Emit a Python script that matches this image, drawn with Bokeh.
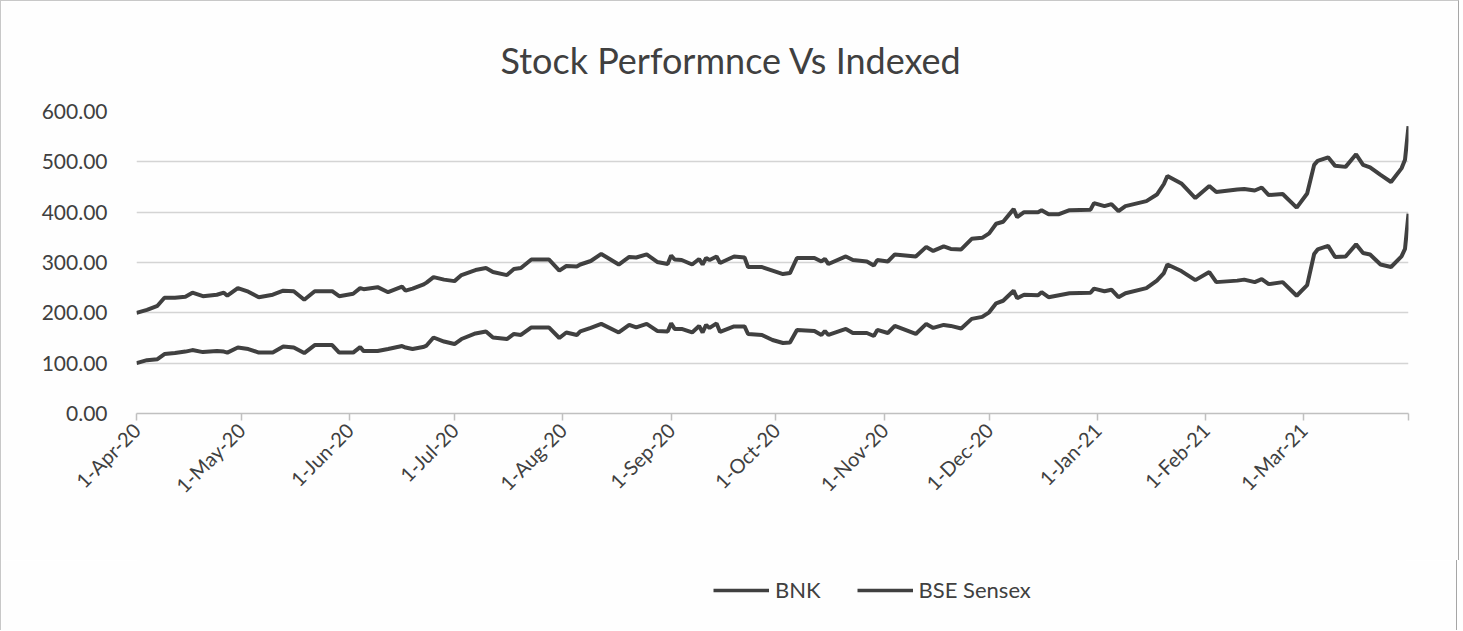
import math
import pandas as pd
from bokeh.plotting import figure
from bokeh.layouts import column
from bokeh.models import (ColumnDataSource, Range1d, FixedTicker, NumeralTickFormatter,
                          Legend, LegendItem)
from bokeh.transform import stack
from bokeh.embed import file_html
from bokeh.resources import INLINE

# ---------------- data ----------------
dates = ["2020-04-01", "2020-04-04", "2020-04-07", "2020-04-09", "2020-04-12", "2020-04-15", "2020-04-17",
         "2020-04-20", "2020-04-24", "2020-04-26", "2020-04-27", "2020-04-30",
         "2020-05-03", "2020-05-06", "2020-05-10", "2020-05-13", "2020-05-16", "2020-05-19", "2020-05-22",
         "2020-05-27", "2020-05-29",
         "2020-06-02", "2020-06-04", "2020-06-05", "2020-06-09", "2020-06-12", "2020-06-16", "2020-06-17",
         "2020-06-19", "2020-06-22", "2020-06-23", "2020-06-25", "2020-06-28",
         "2020-07-01", "2020-07-03", "2020-07-07", "2020-07-10", "2020-07-12", "2020-07-16", "2020-07-18",
         "2020-07-20", "2020-07-23", "2020-07-28", "2020-07-31",
         "2020-08-02", "2020-08-05", "2020-08-06", "2020-08-09", "2020-08-12", "2020-08-17", "2020-08-20",
         "2020-08-22", "2020-08-25", "2020-08-28", "2020-08-31",
         "2020-09-01", "2020-09-02", "2020-09-04", "2020-09-07", "2020-09-09", "2020-09-10", "2020-09-11",
         "2020-09-12", "2020-09-14", "2020-09-15", "2020-09-19", "2020-09-22", "2020-09-23", "2020-09-27",
         "2020-09-30",
         "2020-10-03", "2020-10-05", "2020-10-07", "2020-10-12", "2020-10-14", "2020-10-15", "2020-10-16",
         "2020-10-21", "2020-10-23", "2020-10-27", "2020-10-29", "2020-10-30",
         "2020-11-02", "2020-11-04", "2020-11-07", "2020-11-10", "2020-11-13", "2020-11-15", "2020-11-18",
         "2020-11-20", "2020-11-23", "2020-11-26", "2020-11-29",
         "2020-12-01", "2020-12-03", "2020-12-05", "2020-12-08", "2020-12-09", "2020-12-11", "2020-12-15",
         "2020-12-16", "2020-12-18", "2020-12-21", "2020-12-24", "2020-12-30", "2020-12-31",
         "2021-01-03", "2021-01-05", "2021-01-07", "2021-01-09", "2021-01-15", "2021-01-18", "2021-01-20",
         "2021-01-21", "2021-01-25", "2021-01-29",
         "2021-02-02", "2021-02-04", "2021-02-10", "2021-02-12", "2021-02-15", "2021-02-17", "2021-02-19",
         "2021-02-23", "2021-02-27",
         "2021-03-02", "2021-03-04", "2021-03-05", "2021-03-08", "2021-03-10", "2021-03-13", "2021-03-16",
         "2021-03-18", "2021-03-20", "2021-03-23", "2021-03-26", "2021-03-29", "2021-03-30", "2021-03-31"]

bnk = [100, 106, 108, 118, 120, 123, 126, 122, 124, 123, 121, 131,
       128, 121, 121, 133, 131, 120, 136, 136, 121,
       121, 132, 124, 124, 128, 134, 131, 128, 132, 135, 151, 143,
       138, 148, 159, 163, 151, 148, 158, 156, 171, 171, 150,
       161, 156, 163, 170, 178, 161, 176, 171, 178, 164, 163,
       179, 168, 168, 161, 174, 161, 176, 170, 179, 162, 173, 173, 158, 156, 146,
       140, 141, 166, 164, 156, 164, 156, 168, 160, 160, 154, 166,
       160, 174, 166, 158, 178, 170, 176, 174, 169, 188, 192,
       201, 219, 224, 244, 229, 236, 235, 241, 231, 235, 239, 240, 248,
       243, 246, 231, 239, 249, 264, 279, 296, 283, 265,
       281, 261, 264, 266, 261, 267, 257, 261, 234,
       255, 317, 326, 333, 311, 312, 336, 319, 316, 296, 291, 312, 327, 397]

bse_sensex = [100, 100, 106, 112, 110, 109, 114, 111, 112, 117, 113, 118,
              114, 110, 115, 111, 112, 106, 107, 107, 112,
              117, 117, 123, 127, 113, 118, 113, 120, 124, 125, 120, 123,
              125, 127, 126, 126, 130, 127, 129, 133, 135, 135, 134,
              132, 136, 133, 133, 139, 135, 135, 139, 138, 137, 134,
              135, 138, 137, 135, 133, 135, 133, 135, 133, 137, 139, 137, 133, 135, 138,
              137, 138, 143, 145, 146, 143, 141, 144, 145, 142, 140, 139,
              142, 142, 148, 154, 153, 153, 156, 153, 157, 159, 157,
              157, 158, 157, 162, 161, 164, 165, 163, 165, 161, 165, 165, 170,
              169, 170, 171, 173, 173, 171, 177, 176, 174, 163,
              171, 179, 181, 180, 182, 182, 177, 175, 175,
              182, 177, 176, 176, 181, 178, 179, 175, 173, 178, 169, 175, 177, 174]

tick_dates = ["2020-04-01", "2020-05-01", "2020-06-01", "2020-07-01", "2020-08-01", "2020-09-01",
              "2020-10-01", "2020-11-01", "2020-12-01", "2021-01-01", "2021-02-01", "2021-03-01"]
tick_labels = ["1-Apr-20", "1-May-20", "1-Jun-20", "1-Jul-20", "1-Aug-20", "1-Sep-20",
               "1-Oct-20", "1-Nov-20", "1-Dec-20", "1-Jan-21", "1-Feb-21", "1-Mar-21"]
axis_start = "2020-04-01"
axis_end = "2021-03-31"
y_ticks = [0, 100, 200, 300, 400, 500, 600]

title_text = "Stock Performnce Vs Indexed"
series_names = ["BNK", "BSE Sensex"]

# ---------------- styling ----------------
FONT = "Lato"
TXT = "#404040"
LINE = "#404040"
BG = "#fefefe"


def to_ms(s):
    return int(pd.Timestamp(s).value // 10**6)


source = ColumnDataSource(dict(date=pd.to_datetime(dates), bnk=bnk, sensex=bse_sensex))

# ---------------- main chart ----------------
p = figure(frame_width=1270, frame_height=301, x_axis_type="datetime",
           x_range=Range1d(to_ms(axis_start), to_ms(axis_end)), y_range=Range1d(0, 600),
           output_backend="svg", toolbar_location=None,
           min_border_left=135, min_border_right=52, min_border_top=110, min_border_bottom=148)

p.styles = {"border-left": "1px solid #c8c8c8", "border-right": "1px solid #a6a6a6",
            "border-top": "1px solid #c8c8c8"}

p.background_fill_color = BG
p.border_fill_color = BG
p.outline_line_color = None

# title
p.title.text = title_text
p.title.align = "left"
p.title.offset = 364
p.title.text_font = FONT
p.title.text_font_size = "36px"
p.title.text_font_style = "normal"
p.title.text_color = TXT
p.title.standoff = 60

# lines (stacked like Excel's stacked line chart)
r1 = p.line(x="date", y=stack("bnk"), source=source, line_color=LINE, line_width=4)
r2 = p.line(x="date", y=stack("bnk", "sensex"), source=source, line_color=LINE, line_width=4)

# grid
p.xgrid.grid_line_color = None
p.ygrid.grid_line_color = "#d4d4d4"
p.ygrid.grid_line_width = 1.5

# y axis
yax = p.yaxis[0]
yax.ticker = FixedTicker(ticks=y_ticks)
yax.formatter = NumeralTickFormatter(format="0.00")
yax.axis_line_color = None
yax.major_tick_line_color = None
yax.minor_tick_line_color = None
yax.major_label_text_font = FONT
yax.major_label_text_font_size = "21px"
yax.major_label_text_color = TXT
yax.major_label_standoff = 23

# x axis
xax = p.xaxis[0]
tick_ms = [to_ms(d) for d in tick_dates]
xax.ticker = FixedTicker(ticks=tick_ms, minor_ticks=[to_ms(axis_end)])
xax.major_label_overrides = {t: lab for t, lab in zip(tick_ms, tick_labels)}
xax.major_label_orientation = math.pi / 4
xax.major_label_text_font = FONT
xax.major_label_text_font_size = "20px"
xax.major_label_text_color = TXT
xax.major_label_standoff = 6
xax.axis_line_color = "#c0c0c0"
xax.axis_line_width = 1.5
xax.major_tick_line_color = "#c0c0c0"
xax.major_tick_line_width = 1.5
xax.major_tick_out = 7
xax.major_tick_in = 0
xax.minor_tick_line_color = "#c0c0c0"
xax.minor_tick_line_width = 1.5
xax.minor_tick_out = 7
xax.minor_tick_in = 0

# ---------------- legend strip under the chart ----------------
lg = figure(width=1457, height=70, x_range=Range1d(0, 1), y_range=Range1d(0, 1),
            x_axis_location=None, y_axis_location=None,
            output_backend="svg", toolbar_location=None, min_border=0)
lg.styles = {"border-left": "1px solid #c8c8c8", "border-right": "1px solid #a6a6a6"}
lg.background_fill_color = BG
lg.border_fill_color = BG
lg.outline_line_color = None
lg.xgrid.visible = False
lg.ygrid.visible = False

# same series, only used as legend keys (their data lies outside this strip's ranges)
k1 = lg.line(x="date", y=stack("bnk"), source=source, line_color=LINE, line_width=3.5)
k2 = lg.line(x="date", y=stack("bnk", "sensex"), source=source, line_color=LINE, line_width=3.5)

legend = Legend(items=[LegendItem(label=series_names[0], renderers=[k1]),
                       LegendItem(label=series_names[1], renderers=[k2])],
                orientation="horizontal", location=(577, 27),
                glyph_width=56, glyph_height=20, label_standoff=6, spacing=36,
                label_text_font=FONT, label_text_font_size="22px", label_text_color=TXT,
                background_fill_alpha=0, border_line_color=None, padding=0, margin=0)
lg.add_layout(legend, "center")

layout = column(p, lg, spacing=0)

open("out.html", "w").write(file_html(layout, INLINE))
